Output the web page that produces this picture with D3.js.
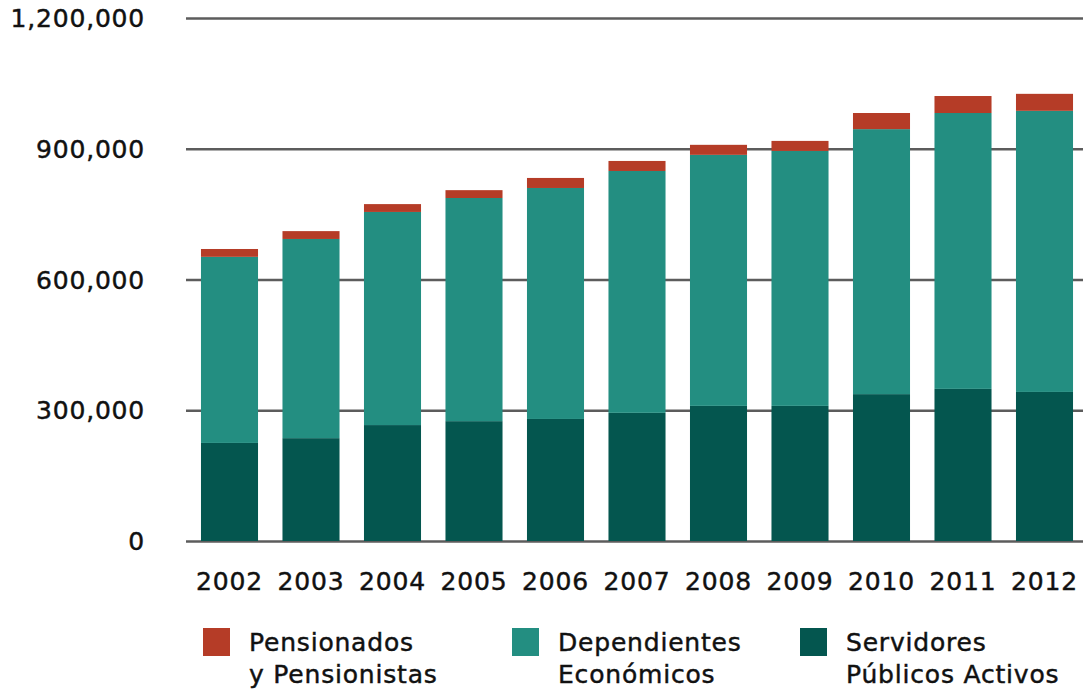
<!DOCTYPE html>
<html><head><meta charset="utf-8">
<script src="https://cdn.jsdelivr.net/npm/d3@7"></script>
<style>body{margin:0;background:#fff}svg{display:block}text{font-family:"DejaVu Sans",sans-serif;fill:#111;stroke:#111;stroke-width:0.45px}</style>
</head><body><svg id="c" width="1083" height="690"></svg>
<script>
const years = ["2002","2003","2004","2005","2006","2007","2008","2009","2010","2011","2012"];
const servidores = [225000,236000,266000,275000,280000,294000,310000,310000,337000,349000,342000];
const dependientes = [427000,457000,489000,512000,530000,555000,576000,585000,608000,633000,645000];
const pensionados = [18000,18000,18000,18000,23000,23000,23000,23000,37000,39000,39000];
const yTicks = [0,300000,600000,900000,1200000];
const seriesKeys = ["servidores","dependientes","pensionados"];
const seriesColors = {servidores:"#04564f",dependientes:"#238e81",pensionados:"#b53c27"};
const legendItems = [
  {key:"pensionados", lines:["Pensionados","y Pensionistas"]},
  {key:"dependientes", lines:["Dependientes","Económicos"]},
  {key:"servidores", lines:["Servidores","Públicos Activos"]}
];

const svg = d3.select("#c");
const x = d3.scaleBand().domain(years).range([188.75,1085.25]).paddingInner(0.3).paddingOuter(0.15);
const y = d3.scaleLinear().domain([0,1200000]).range([541,18]);

const rows = years.map((yr,i)=>({year:yr,servidores:servidores[i],dependientes:dependientes[i],pensionados:pensionados[i]}));
const stacked = d3.stack().keys(seriesKeys)(rows);

// gridlines
const yAxis = d3.axisLeft(y).tickValues(yTicks).tickSize(-(1083-186)).tickFormat("");
const g = svg.append("g").attr("transform","translate(186,0)").call(yAxis);
g.select(".domain").remove();
g.selectAll(".tick line").attr("stroke","#5c5c5c").attr("stroke-width",2.5);

// labels
svg.append("g").selectAll("text").data(yTicks).join("text")
  .attr("x",145).attr("y",d=>y(d)+9).attr("text-anchor","end")
  .attr("font-size",25).attr("letter-spacing",0.8)
  .text(d=>d3.format(",")(d));

// bars
svg.append("g").selectAll("g").data(stacked).join("g")
  .attr("fill",d=>seriesColors[d.key])
  .selectAll("rect").data(d=>d).join("rect")
  .attr("x",d=>x(d.data.year)).attr("width",x.bandwidth())
  .attr("y",d=>y(d[1])).attr("height",d=>y(d[0])-y(d[1]));

// x labels
svg.append("g").selectAll("text").data(years).join("text")
  .attr("x",d=>x(d)+x.bandwidth()/2).attr("y",590).attr("text-anchor","middle")
  .attr("font-size",25).attr("letter-spacing",0.8)
  .text(d=>d);

// legend
const lx = [203,512,800];
const lg = svg.append("g").selectAll("g").data(legendItems).join("g")
  .attr("transform",(d,i)=>`translate(${lx[i]},0)`);
lg.append("rect").attr("x",0).attr("y",628).attr("width",27).attr("height",28)
  .attr("fill",d=>seriesColors[d.key]);
lg.each(function(d){
  const t = d3.select(this).append("text").attr("font-size",25).attr("letter-spacing",0.8);
  d.lines.forEach((l,j)=>t.append("tspan").attr("x",46).attr("y",651+j*32).text(l));
});
</script></body></html>
